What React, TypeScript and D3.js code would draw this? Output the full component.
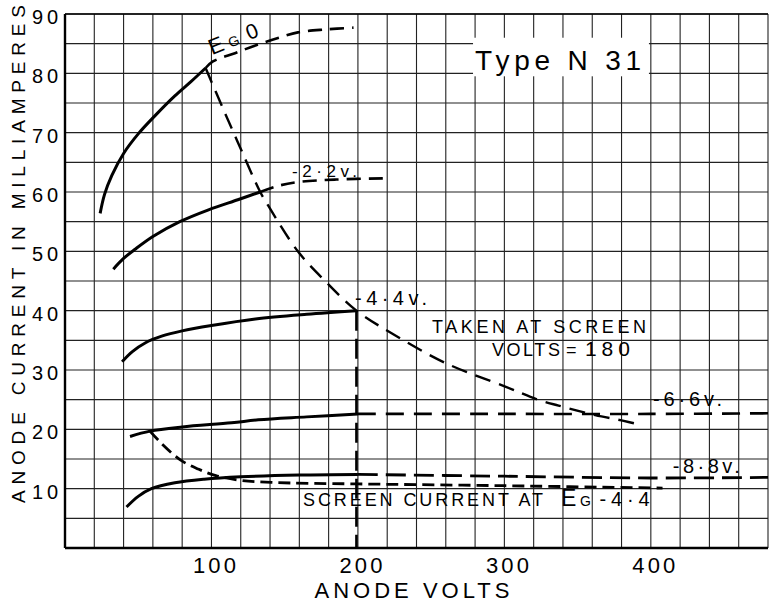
import React, { useRef, useEffect } from 'react';
import * as d3 from 'd3';

type Pt = [number, number];

// [anode volts, anode mA]
const eg0Solid: Pt[] = [[24, 56.4], [27, 59.6], [32, 62.8], [40, 66.5], [50, 69.8], [62, 73], [75, 76.2], [86, 78.6], [96, 80.9]];
const eg0Dash: Pt[] = [[96, 80.9], [101, 82], [116, 83.4], [130, 84.7], [146, 86], [159, 86.9], [178, 87.4], [197, 87.7]];
const neg22Solid: Pt[] = [[33, 47], [40, 48.8], [47.6, 50.3], [60, 52.5], [78.4, 55], [98, 57], [118, 58.7], [133.3, 60]];
const neg22Dash: Pt[] = [[133.3, 60], [145, 61], [160, 61.7], [185, 62.1], [217, 62.3]];
const neg44Solid: Pt[] = [[39, 31.4], [46, 33.1], [55, 34.6], [66, 35.7], [80, 36.6], [100, 37.5], [130, 38.6], [165, 39.4], [199, 40]];
const neg44Drop: Pt[] = [[199, 40], [199, 0]];
const neg66Solid: Pt[] = [[44.4, 18.8], [58, 19.7], [80, 20.4], [113.7, 21.1], [132, 21.6], [165, 22.1], [200, 22.6]];
const neg66Dash: Pt[] = [[200, 22.6], [300, 22.6], [400, 22.6], [480, 22.7]];
const neg88Solid: Pt[] = [[42, 6.9], [50, 8.7], [59, 10], [75, 11], [95, 11.6], [120, 12], [160, 12.3], [200, 12.4]];
const neg88Dash: Pt[] = [[200, 12.4], [300, 12.1], [400, 11.8], [480, 11.9]];
const screenCurrent: Pt[] = [[58, 19.7], [66, 17.6], [79, 14.8], [91, 13.3], [103, 12.2], [120, 11.4], [141, 11.05], [200, 10.8], [300, 10.5], [408, 10.1]];
// knee locus through the end of each solid curve
const kneeLocus: Pt[] = [[96, 80.9], [108, 74], [120.5, 67], [133.3, 60], [139, 57.6], [159, 50], [177.6, 45], [199, 40], [223, 36.2], [259.6, 31.2], [300.6, 27.2], [323, 25], [337, 24], [362, 22.4], [380, 21.5], [394, 20.7]];

const yTicks = [10, 20, 30, 40, 50, 60, 70, 80, 90];
const xTicks = [100, 200, 300, 400];

const FONT = '"Liberation Sans", Arial, sans-serif';

const App = () => {
  const ref = useRef<SVGSVGElement>(null);

  useEffect(() => {
    const svg = d3.select(ref.current);
    svg.selectAll('*').remove();

    const x = d3.scaleLinear().domain([0, 480]).range([65, 768]);
    const y = d3.scaleLinear().domain([0, 90]).range([548, 14]);

    svg.append('rect').attr('width', 770).attr('height', 603).attr('fill', '#fff');

    const grid = svg.append('g').attr('stroke', '#222').attr('stroke-width', 1.1);
    grid.selectAll('.v')
      .data(d3.range(0, 481, 20))
      .enter()
      .append('line')
      .attr('x1', d => x(d)).attr('x2', d => x(d))
      .attr('y1', y(90)).attr('y2', y(0));
    grid.selectAll('.h')
      .data(d3.range(0, 91, 5))
      .enter()
      .append('line')
      .attr('y1', d => y(d)).attr('y2', d => y(d))
      .attr('x1', x(0)).attr('x2', x(480));

    // frame
    svg.append('line').attr('x1', x(0)).attr('x2', x(0)).attr('y1', y(90)).attr('y2', y(0))
      .attr('stroke', '#000').attr('stroke-width', 2.4);
    svg.append('line').attr('x1', x(0)).attr('x2', x(480)).attr('y1', y(0)).attr('y2', y(0))
      .attr('stroke', '#000').attr('stroke-width', 2.4);
    svg.append('line').attr('x1', x(0)).attr('x2', x(480)).attr('y1', y(90)).attr('y2', y(90))
      .attr('stroke', '#000').attr('stroke-width', 1.6);

    // white patch behind the type label
    svg.append('rect')
      .attr('x', x(278.6)).attr('y', y(86))
      .attr('width', x(398.7) - x(278.6)).attr('height', y(79.5) - y(86))
      .attr('fill', '#fff');

    const smooth = d3.line<Pt>().x(d => x(d[0])).y(d => y(d[1])).curve(d3.curveCatmullRom.alpha(0.5));
    const straight = d3.line<Pt>().x(d => x(d[0])).y(d => y(d[1]));

    const curves: { pts: Pt[]; dash: string | null; w: number; gen: any }[] = [
      { pts: eg0Solid, dash: null, w: 3, gen: smooth },
      { pts: neg22Solid, dash: null, w: 3, gen: smooth },
      { pts: neg44Solid, dash: null, w: 3, gen: smooth },
      { pts: neg66Solid, dash: null, w: 3, gen: smooth },
      { pts: neg88Solid, dash: null, w: 3, gen: smooth },
      { pts: eg0Dash, dash: '14,8', w: 2.6, gen: smooth },
      { pts: neg22Dash, dash: '14,8', w: 2.6, gen: smooth },
      { pts: neg44Drop, dash: '20,8', w: 2.6, gen: straight },
      { pts: neg66Dash, dash: '18,10', w: 2.6, gen: smooth },
      { pts: neg88Dash, dash: '20,8', w: 2.8, gen: smooth },
      { pts: screenCurrent, dash: '12,6', w: 2.8, gen: smooth },
      { pts: kneeLocus, dash: '16,9', w: 2.4, gen: smooth },
    ];

    svg.selectAll('.curve')
      .data(curves)
      .enter()
      .append('path')
      .attr('class', 'curve')
      .attr('d', d => d.gen(d.pts))
      .attr('fill', 'none')
      .attr('stroke', '#000')
      .attr('stroke-width', d => d.w)
      .attr('stroke-dasharray', d => d.dash)
      .attr('stroke-linecap', 'butt');

    const txt = svg.append('g').attr('font-family', FONT).attr('fill', '#000');

    // axis numbers
    txt.selectAll('.yt')
      .data(yTicks)
      .enter()
      .append('text')
      .attr('x', 58)
      .attr('y', d => y(d) + 10)
      .attr('text-anchor', 'end')
      .attr('font-size', 20)
      .attr('textLength', 26)
      .text(d => d);
    txt.selectAll('.xt')
      .data(xTicks)
      .enter()
      .append('text')
      .attr('x', d => x(d) + 3)
      .attr('y', 573)
      .attr('text-anchor', 'middle')
      .attr('font-size', 22)
      .attr('textLength', 43)
      .text(d => d);

    txt.append('text')
      .attr('x', 412).attr('y', 598)
      .attr('text-anchor', 'middle')
      .attr('font-size', 22)
      .attr('textLength', 195)
      .text('ANODE VOLTS');
    txt.append('text')
      .attr('transform', 'translate(25,254) rotate(-90)')
      .attr('text-anchor', 'middle')
      .attr('font-size', 19)
      .attr('textLength', 498)
      .text('ANODE CURRENT IN MILLIAMPERES');

    txt.append('text')
      .attr('x', x(280)).attr('y', y(80) - 3)
      .attr('font-size', 28)
      .attr('textLength', 166)
      .text('Type N 31');

    // curve labels
    const eg = txt.append('g')
      .attr('transform', `translate(${x(100.4)},${y(83.05)}) rotate(-22)`);
    eg.append('text').attr('x', 0).attr('y', 0).attr('font-size', 22).text('E');
    eg.append('text').attr('x', 20).attr('y', 0).attr('font-size', 14).text('G');
    eg.append('text').attr('x', 40).attr('y', 0).attr('font-size', 21).text('0');

    txt.append('text').attr('x', x(155)).attr('y', y(62.6))
      .attr('font-size', 17).attr('textLength', 65).text('-2·2v.');
    txt.append('text').attr('x', x(198)).attr('y', y(41))
      .attr('font-size', 20).attr('textLength', 72).text('-4·4v.');
    txt.append('text').attr('x', x(401.5)).attr('y', y(24))
      .attr('font-size', 20).attr('textLength', 69).text('-6·6v.');
    txt.append('text').attr('x', x(415)).attr('y', y(12.6))
      .attr('font-size', 20).attr('textLength', 67).text('-8·8v.');

    txt.append('text').attr('x', x(250.6)).attr('y', y(36.3))
      .attr('font-size', 18).attr('textLength', 214).text('TAKEN AT SCREEN');
    txt.append('text').attr('x', x(291.5)).attr('y', y(32.4))
      .attr('font-size', 18).attr('textLength', 68).text('VOLTS');
    txt.append('text').attr('x', x(342)).attr('y', y(32.4))
      .attr('font-size', 18).attr('textLength', 16).text('=');
    txt.append('text').attr('x', x(355)).attr('y', y(32.4))
      .attr('font-size', 21).attr('textLength', 45).text('180');

    txt.append('text').attr('x', x(162.5)).attr('y', y(7))
      .attr('font-size', 18).attr('textLength', 240).text('SCREEN CURRENT AT');
    txt.append('text').attr('x', x(338.7)).attr('y', y(7))
      .attr('font-size', 23).text('E');
    txt.append('text').attr('x', x(351.6)).attr('y', y(7))
      .attr('font-size', 14).text('G');
    txt.append('text').attr('x', x(365)).attr('y', y(7))
      .attr('font-size', 20).attr('textLength', 50).text('-4·4');
  }, []);

  return (
    <svg
      ref={ref}
      width={770}
      height={603}
      style={{ position: 'absolute', left: 0, top: 0, display: 'block' }}
    />
  );
};

export default App;
